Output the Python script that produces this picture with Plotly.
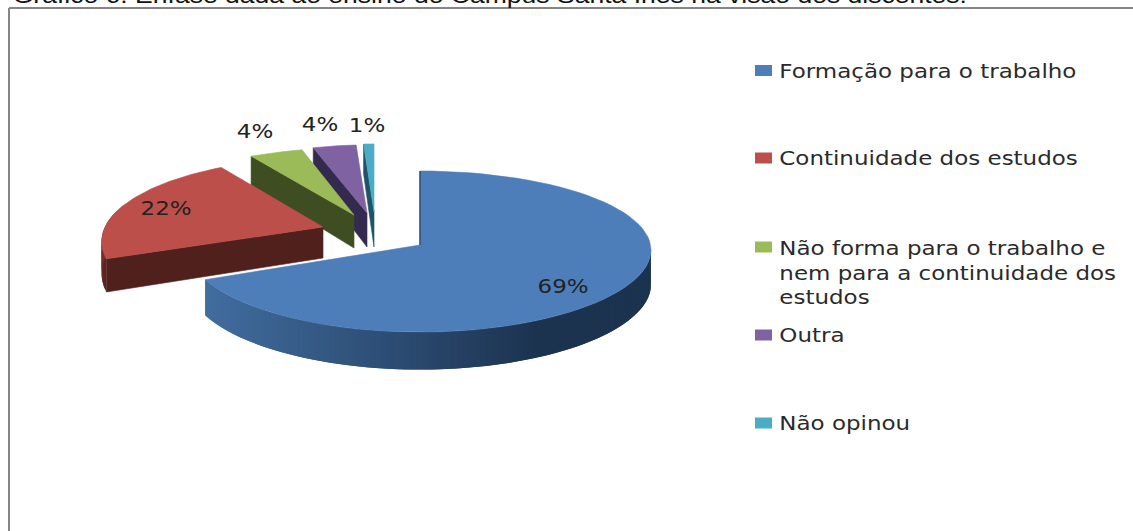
import math
import plotly.graph_objects as go

categories = ["Formação para o trabalho", "Continuidade dos estudos",
              "Não forma para o trabalho e<br>nem para a continuidade dos<br>estudos",
              "Outra", "Não opinou"]
values = [69, 22, 4, 4, 1]
colors = ["#4D7EBA", "#BD4F4B", "#9BBB59", "#7F62A1", "#4BACC6"]
face_colors = ["#2F4F78", "#4F201C", "#3F4D22", "#332A4D", "#1D5566"]
title = "Gráfico 6. Ênfase dada ao ensino do Campus Santa Inês na visão dos discentes."

# projection of each exploded slice:
# apex x, apex y, a, b, x perspective, y perspective, depth, x skew, y sag
geometry = [(420, 245, 231, 80, 0.0, 0.081, 34.5, 0, 5),
            (323, 227, 218, 81, 0.175, 0.175, 31, 0, 0),
            (354, 215, 245, 80, 0.175, 0.175, 33, -13.6, 0),
            (367, 213, 203, 80, 0.175, 0.175, 34, 0, 0),
            (374, 212, 195, 80, 0.175, 0.175, 35, 0, 0)]
label_pos = [(563, 286), (166, 208), (255, 131), (320, 124), (367, 125)]
legend_y = [70.5, 158, 247, 335, 423]


def project(theta, g):
    ax, ay, a, b, kx, ky, d, s, sag = g
    u, v = math.sin(theta), -math.cos(theta)
    den = 1 - ky * v
    return (ax + a * u / (1 - kx * v) + s * v,
            ay + b * v / den + sag * u * u,
            d / den)


def mix(c1, c2, t):
    p = [int(c1[i:i + 2], 16) for i in (1, 3, 5)]
    q = [int(c2[i:i + 2], 16) for i in (1, 3, 5)]
    return "#%02x%02x%02x" % tuple(round(p[i] + (q[i] - p[i]) * t) for i in range(3))


fig = go.Figure()


def poly(xs, ys, color, lw=0.6):
    fig.add_trace(go.Scatter(x=xs, y=ys, mode="lines", fill="toself", fillcolor=color,
                             line=dict(color=color, width=lw), hoverinfo="skip",
                             showlegend=False))


total = sum(values)
start = []
acc = 0
for v in values:
    start.append(acc / total * 2 * math.pi)
    acc += v


def arc(t0, t1, n=80):
    return [t0 + (t1 - t0) * j / n for j in range(n + 1)]


def rim(g, ts, color_at):
    # overlapping quads, painted in order, so that no seams show
    for j in range(len(ts) - 1):
        seg = ts[j:j + 3]
        pts = [project(t, g) for t in seg]
        xs = [p[0] for p in pts] + [p[0] for p in reversed(pts)] + [pts[0][0]]
        ys = [p[1] for p in pts] + [p[1] + p[2] for p in reversed(pts)] + [pts[0][1]]
        poly(xs, ys, color_at(j, pts[0][0]), lw=0)


for i in range(len(values) - 1, -1, -1):
    g = geometry[i]
    t0 = start[i]
    t1 = t0 + values[i] / total * 2 * math.pi
    ax, ay, d = g[0], g[1], g[6]
    if i > 0:
        # cut face along the slice's starting radius
        x0, y0, d0 = project(t0, g)
        poly([ax, x0, x0, ax, ax], [ay, y0, y0 + d0, ay + d, ay], face_colors[i])
    if i == 1:
        # short visible outer rim of the red slice
        rim(g, arc(t0, t0 + math.radians(38), 24),
            lambda j, x: mix("#5A2420", "#8E3B37", j / 23))
    if i == 0:
        # outer rim of the large slice, shaded left to right
        rim(g, arc(math.pi / 2 - 0.05, t1, 110),
            lambda j, x: mix("#416D9F", "#1C3350", max(0, min(1, (x - 207) / 333))))
    pts = [project(t, g) for t in arc(t0, t1)]
    poly([ax] + [p[0] for p in pts] + [ax], [ay] + [p[1] for p in pts] + [ay], colors[i])
    if i == 0:
        x0, y0, _ = project(t0, g)
        fig.add_trace(go.Scatter(x=[ax, x0], y=[ay, y0], mode="lines",
                                 line=dict(color="#2F4F78", width=1.5),
                                 hoverinfo="skip", showlegend=False))

ann = []
for v, (x, y) in zip(values, label_pos):
    ann.append(dict(x=x, y=y, text=f"{v}%", showarrow=False, xref="x", yref="y",
                    font=dict(family="DejaVu Sans", size=19, color="#222222")))
shapes = []
for c, y, col in zip(categories, legend_y, colors):
    lines = c.count("<br>")
    ann.append(dict(x=776.5, y=y + lines * 12.75, text=c, showarrow=False, xref="x", yref="y",
                    xanchor="left", yanchor="middle", align="left",
                    font=dict(family="DejaVu Sans", size=19, color="#2A2A2A")))
    shapes.append(dict(type="rect", x0=755, x1=772, y0=y - 5.5, y1=y + 5.5, xref="x", yref="y",
                       fillcolor=col, line=dict(width=0), layer="above"))
shapes.append(dict(type="line", x0=9, x1=9, y0=8, y1=531, xref="x", yref="y",
                   line=dict(color="#868686", width=2)))
shapes.append(dict(type="line", x0=9, x1=1133, y0=8, y1=8, xref="x", yref="y",
                   line=dict(color="#868686", width=2)))
ann.append(dict(x=10, y=10, text=title, showarrow=False, xref="x", yref="y",
                xanchor="left", yanchor="bottom",
                font=dict(family="Liberation Sans", size=21.5, color="#111111")))

fig.update_layout(width=1133, height=531, margin=dict(l=0, r=0, t=0, b=0),
                  paper_bgcolor="white", plot_bgcolor="white",
                  annotations=ann, shapes=shapes, showlegend=False,
                  xaxis=dict(range=[0, 1133], visible=False, fixedrange=True),
                  yaxis=dict(range=[531, 0], visible=False, fixedrange=True))

# The reference's labels are stretched sideways; widen them the same way.
post = """
document.body.style.margin='0';
document.querySelectorAll('g.annotation').forEach(function(e){
  var i = +e.getAttribute('data-index');
  var b = e.getBBox();
  var o = i < 5 ? b.x + b.width/2 : b.x;
  var s = i === 10 ? 1.235 : 1.21;
  e.setAttribute('transform','translate('+o+',0) scale('+s+',1) translate('+(-o)+',0)');
});
"""
fig.write_html("out.html", post_script=post, config={"displayModeBar": False})
